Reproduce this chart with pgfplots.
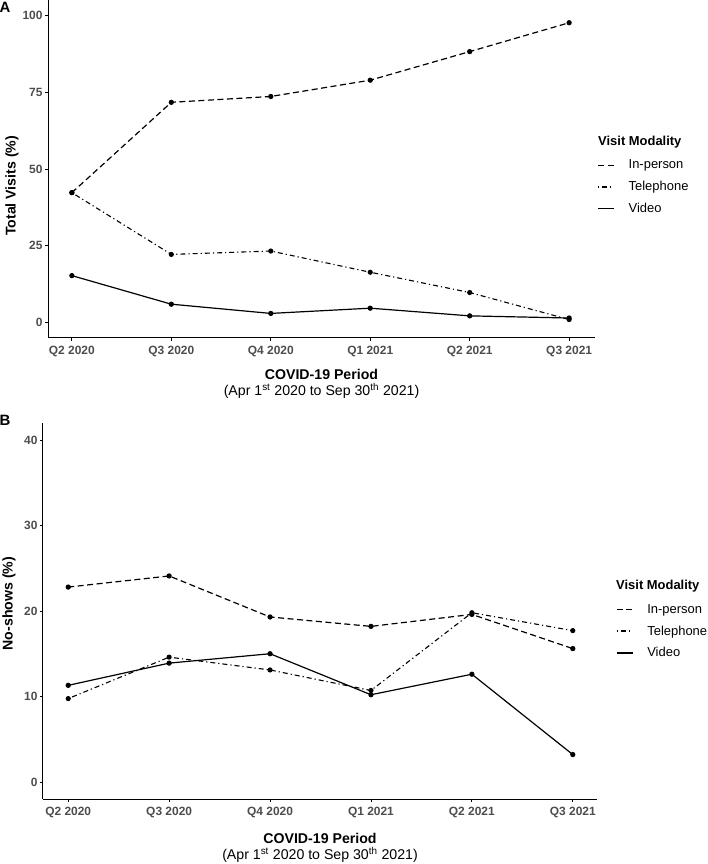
\documentclass[border=0pt]{standalone}
\usepackage{pgfplots}
\pgfplotsset{compat=1.18}
\usepackage{fontspec}
\setmainfont{Liberation Sans}
\definecolor{tickgray}{HTML}{4D4D4D}
\pgfplotsset{
  common/.style={
    scale only axis,
    axis x line*=bottom, axis y line*=left,
    axis line style={line width=1bp, black},
    tick align=outside, major tick length=3bp,
    tick style={line width=0.8bp, black},
    xtick={0,1,2,3,4,5},
    xticklabels={Q2 2020,Q3 2020,Q4 2020,Q1 2021,Q2 2021,Q3 2021},
    ticklabel style={font=\fontsize{12}{13}\selectfont\bfseries, text=tickgray},
    /pgf/number format/assume math mode=true,
    xticklabel style={yshift=-2bp},
    yticklabel style={xshift=1bp},
    clip=false,
    label style={font=\fontsize{14.2}{16}\selectfont},
    xlabel style={at={(axis description cs:0.5,0)}, anchor=north, align=center, yshift=-28bp},
    xlabel={\textbf{COVID-19 Period}\\[0bp]{\fontsize{14.2}{16}\selectfont(Apr 1\textsuperscript{st} 2020 to Sep 30\textsuperscript{th} 2021)}},
    legend style={draw=none, fill=none, font=\fontsize{13}{15}\selectfont, row sep=9bp, inner sep=0pt,
      nodes={inner sep=1bp}, column sep=13bp},
    legend cell align=left,
    legend image code/.code={\draw[##1, mark=none, line width=1.3bp] (0bp,0bp) -- (16bp,0bp);},
  },
  inp/.style={black, line width=1.2bp, dash pattern=on 6bp off 3.5bp, mark=*, mark size=2bp, mark options={solid}},
  tel/.style={black, line width=1.1bp, dash pattern=on 1.2bp off 3bp on 5bp off 3bp, mark=*, mark size=2bp, mark options={solid}},
  vid/.style={black, line width=1.2bp, solid, mark=*, mark size=2bp},
}
\begin{document}
\begin{tikzpicture}
\path[use as bounding box] (0bp,0bp) rectangle (708bp,864bp);
% Panel A
\begin{axis}[common,
  at={(48bp,526bp)}, anchor=south west,
  width=547bp, height=338bp,
  xmin=-0.24, xmax=5.26, ymin=-5, ymax=105,
  ytick={0,25,50,75,100},
  ylabel={\textbf{Total Visits (\%)}},
  ylabel style={at={(axis description cs:-0.066,0.45)}, anchor=center},
  legend style={at={(axis description cs:1.004,0.530)}, anchor=north west},
]
\addplot[inp] coordinates {(0,42.3) (1,71.7) (2,73.6) (3,78.9) (4,88.2) (5,97.6)};
\addlegendentry{In-person}
\addplot[tel] coordinates {(0,42.3) (1,22.2) (2,23.3) (3,16.4) (4,9.8) (5,1.0)};
\addlegendentry{Telephone}
\addplot[vid] coordinates {(0,15.3) (1,6.0) (2,3.0) (3,4.7) (4,2.2) (5,1.5)};
\addlegendentry{Video}
\end{axis}
\node[anchor=west, inner sep=0pt, font=\fontsize{13}{15}\selectfont\bfseries] at (598bp,722bp) {Visit Modality};
\node[font=\fontsize{15}{17}\selectfont\bfseries] at (5bp,857bp) {A};
% Panel B
\begin{axis}[common,
  at={(43bp,65bp)}, anchor=south west,
  width=554bp, height=376bp,
  xmin=-0.25, xmax=5.24, ymin=-2, ymax=42,
  ytick={0,10,20,30,40},
  xlabel style={yshift=-3bp},
  ylabel={\textbf{No-shows (\%)}},
  ylabel style={at={(axis description cs:-0.0614,0.52)}, anchor=center},
  legend style={at={(axis description cs:1.034,0.521)}, anchor=north west},
]
\addplot[inp] coordinates {(0,22.8) (1,24.1) (2,19.3) (3,18.2) (4,19.6) (5,15.6)};
\addlegendentry{In-person}
\addplot[tel] coordinates {(0,9.75) (1,14.6) (2,13.1) (3,10.7) (4,19.8) (5,17.7)};
\addlegendentry{Telephone}
\addplot[vid] coordinates {(0,11.3) (1,13.9) (2,15.0) (3,10.2) (4,12.6) (5,3.2)};
\addlegendentry{Video}
\end{axis}
\node[anchor=west, inner sep=0pt, font=\fontsize{13}{15}\selectfont\bfseries] at (616bp,278bp) {Visit Modality};
\node[font=\fontsize{15}{17}\selectfont\bfseries] at (5bp,444bp) {B};
\end{tikzpicture}
\end{document}
